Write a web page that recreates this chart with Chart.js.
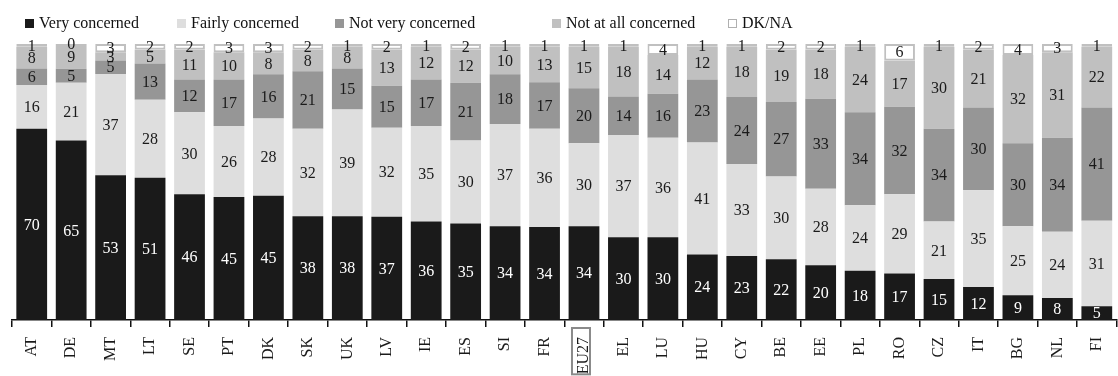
<!DOCTYPE html>
<html>
<head>
<meta charset="utf-8">
<script src="https://cdn.jsdelivr.net/npm/chart.js@4.4.1/dist/chart.umd.min.js"></script>
<style>
  html, body { margin: 0; padding: 0; background: #fff; overflow: hidden; }
  #wrap { position: relative; width: 1126px; height: 376px; }
  #legend { position: absolute; left: 0; top: 13px; width: 1118px; height: 22px;
            font: 16px "Liberation Serif", serif; color: #111; white-space: nowrap; }
  .item { position: absolute; top: 0; display: flex; align-items: center; height: 20px; }
  .box { width: 9px; height: 9px; margin-right: 5px; box-sizing: border-box; }
  canvas { display: block; }
</style>
</head>
<body>
<div id="wrap">
  <div id="legend"></div>
  <canvas id="chart" width="1126" height="376"></canvas>
</div>
<script>
const countries = ['AT', 'DE', 'MT', 'LT', 'SE', 'PT', 'DK', 'SK', 'UK', 'LV', 'IE', 'ES', 'SI', 'FR',
  'EU27', 'EL', 'LU', 'HU', 'CY', 'BE', 'EE', 'PL', 'RO', 'CZ', 'IT', 'BG', 'NL', 'FI'];

const veryConcerned   = [70, 65, 53, 51, 46, 45, 45, 38, 38, 37, 36, 35, 34, 34, 34, 30, 30, 24, 23, 22, 20, 18, 17, 15, 12, 9, 8, 5];
const fairlyConcerned = [16, 21, 37, 28, 30, 26, 28, 32, 39, 32, 35, 30, 37, 36, 30, 37, 36, 41, 33, 30, 28, 24, 29, 21, 35, 25, 24, 31];
const notVery         = [6, 5, 5, 13, 12, 17, 16, 21, 15, 15, 17, 21, 18, 17, 20, 14, 16, 23, 24, 27, 33, 34, 32, 34, 30, 30, 34, 41];
const notAtAll        = [8, 9, 3, 5, 11, 10, 8, 8, 8, 13, 12, 12, 10, 13, 15, 18, 14, 12, 18, 19, 18, 24, 17, 30, 21, 32, 31, 22];
const dkNa            = [1, 0, 3, 2, 2, 3, 3, 2, 1, 2, 1, 2, 1, 1, 1, 1, 4, 1, 1, 2, 2, 1, 6, 1, 2, 4, 3, 1];

const seriesNames = ['Very concerned', 'Fairly concerned', 'Not very concerned', 'Not at all concerned', 'DK/NA'];
const seriesValues = [veryConcerned, fairlyConcerned, notVery, notAtAll, dkNa];
const seriesColors = ['#1a1a1a', '#dedede', '#969696', '#c0c0c0', '#ffffff'];

// legend item left edges, as in the original layout
const legendLeft = [25, 177, 335, 552, 728];

const FONT = '"Liberation Serif", "Times New Roman", serif';

// each bar is drawn as a 100% stack
const totals = countries.map((c, i) => seriesValues.reduce((s, arr) => s + arr[i], 0));

const datasets = seriesValues.map((vals, k) => ({
  label: seriesNames[k],
  data: vals.map((v, i) => v * 100 / totals[i]),
  raw: vals,
  backgroundColor: seriesColors[k],
  borderColor: k === 4 ? '#c0c0c0' : seriesColors[k],
  borderWidth: k === 4 ? 2 : 0,
  borderSkipped: false,
  barPercentage: 0.78,
  categoryPercentage: 1.0
}));

const segmentLabels = {
  id: 'segmentLabels',
  afterDatasetsDraw(chart) {
    const ctx = chart.ctx;
    ctx.save();
    ctx.font = '16px ' + FONT;
    ctx.textAlign = 'center';
    ctx.textBaseline = 'middle';
    chart.data.datasets.forEach((ds, k) => {
      const meta = chart.getDatasetMeta(k);
      meta.data.forEach((bar, i) => {
        const y = (bar.y + bar.base) / 2;
        ctx.fillStyle = k === 0 ? '#ffffff' : '#1a1a1a';
        ctx.fillText(String(ds.raw[i]), bar.x, y + 1);
      });
    });
    ctx.restore();
  }
};

// grey frame around the EU27 tick label
const euFrame = {
  id: 'euFrame',
  afterDraw(chart) {
    const xs = chart.scales.x;
    const idx = countries.indexOf('EU27');
    if (idx < 0) return;
    const ctx = chart.ctx;
    ctx.save();
    ctx.font = '16px ' + FONT;
    const w = ctx.measureText('EU27').width;
    const x = xs.getPixelForTick(idx) - 3;
    const top = xs.top + 7;
    ctx.strokeStyle = '#8a8a8a';
    ctx.lineWidth = 2;
    ctx.strokeRect(x - 9, top + 1, 18, w + 9);
    ctx.restore();
  }
};

const chart = new Chart(document.getElementById('chart'), {
  type: 'bar',
  data: { labels: countries, datasets: datasets },
  options: {
    responsive: false,
    animation: false,
    devicePixelRatio: 1,
    layout: { padding: { left: 12, right: 0, top: 44, bottom: 0 } },
    plugins: {
      legend: { display: false },
      tooltip: { enabled: false }
    },
    scales: {
      x: {
        stacked: true,
        offset: true,
        border: { display: true, color: '#111', width: 1.5 },
        grid: {
          display: true,
          offset: true,
          drawOnChartArea: false,
          drawTicks: true,
          tickLength: 7,
          color: '#111',
          lineWidth: 1.5
        },
        ticks: {
          autoSkip: false,
          minRotation: 90,
          maxRotation: 90,
          padding: 10,
          color: '#1a1a1a',
          font: { family: FONT, size: 16 }
        },
        afterFit(scale) { scale.height = 56; }
      },
      y: {
        stacked: true,
        display: false,
        min: 0,
        max: 100
      }
    }
  },
  plugins: [segmentLabels, euFrame]
});

// HTML legend built from the chart's datasets
const legendEl = document.getElementById('legend');
chart.data.datasets.forEach((ds, k) => {
  const item = document.createElement('div');
  item.className = 'item';
  item.style.left = legendLeft[k] + 'px';
  const box = document.createElement('span');
  box.className = 'box';
  box.style.background = ds.backgroundColor;
  box.style.border = k === 4 ? '1.5px solid #b0b0b0' : 'none';
  const txt = document.createElement('span');
  txt.textContent = ds.label;
  item.appendChild(box);
  item.appendChild(txt);
  legendEl.appendChild(item);
});
</script>
</body>
</html>
